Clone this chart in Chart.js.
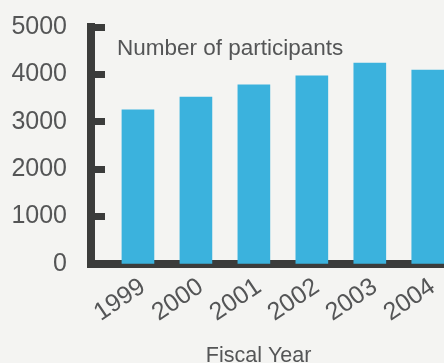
<!DOCTYPE html>
<html>
<head>
<meta charset="utf-8">
<script src="https://cdn.jsdelivr.net/npm/chart.js@4/dist/chart.umd.min.js"></script>
<style>
  html,body{margin:0;padding:0;background:#f4f4f2;overflow:hidden;}
  #wrap{width:444px;height:363px;}
</style>
</head>
<body>
<div id="wrap"><canvas id="chart" width="444" height="363"></canvas></div>
<script>
const years = ['1999','2000','2001','2002','2003','2004'];
const participants = [3250, 3520, 3780, 3970, 4240, 4090];
const yTicks = [0, 1000, 2000, 3000, 4000, 5000];
const seriesLabel = 'Number of participants';
const axisTitle = 'Fiscal Year';

const ink='#3b3c3b', text='#545556', blue='#3bb2dd';
const font='"Liberation Sans", Arial, sans-serif';

// label drawn inside the plot, top left
const innerLabel = {
  id:'innerLabel',
  afterDatasetsDraw(chart){
    const {ctx,chartArea}=chart;
    ctx.save();
    ctx.font=`22.5px ${font}`;
    ctx.fillStyle=text;
    ctx.textBaseline='alphabetic';
    ctx.fillText(chart.data.datasets[0].label, chartArea.left+26, chartArea.top+28);
    ctx.restore();
  }
};

function noPad(s){s.paddingLeft=0;s.paddingRight=0;s.paddingTop=0;s.paddingBottom=0;}

new Chart(document.getElementById('chart').getContext('2d'),{
  type:'bar',
  data:{datasets:[{
    label:seriesLabel,
    data:participants.map((v,i)=>({x:i,y:v})),
    backgroundColor:blue,
    barThickness:32
  }]},
  plugins:[innerLabel],
  options:{
    responsive:false,
    animation:false,
    layout:{padding:{top:27,right:0,left:0,bottom:0}},
    plugins:{legend:{display:false},tooltip:{enabled:false}},
    scales:{
      x:{
        type:'linear',
        offset:false,
        min:-0.81,max:5.28,
        afterBuildTicks:s=>{s.ticks=years.map((_,i)=>({value:i}));},
        afterFit:s=>{s.height=99;noPad(s);},
        grid:{display:false,drawTicks:false},
        border:{display:true,width:8,color:ink},
        ticks:{
          callback:v=>years[v],
          color:text,font:{family:font,size:25},
          minRotation:34,maxRotation:34,padding:8,labelOffset:5,autoSkip:false
        },
        title:{display:true,text:axisTitle+'\u00a0\u00a0\u00a0',color:text,font:{family:font,size:21.5},padding:{top:0,bottom:-6}}
      },
      y:{
        min:0,max:5000,
        afterBuildTicks:s=>{s.ticks=yTicks.map(v=>({value:v}));},
        afterFit:s=>{s.width=91;noPad(s);},
        grid:{display:true,drawOnChartArea:false,drawTicks:true,tickLength:-14,tickWidth:7,tickColor:ink},
        border:{display:true,width:8,color:ink},
        ticks:{callback:v=>String(v),color:text,font:{family:font,size:25},padding:38}
      }
    }
  }
});
</script>
</body>
</html>
